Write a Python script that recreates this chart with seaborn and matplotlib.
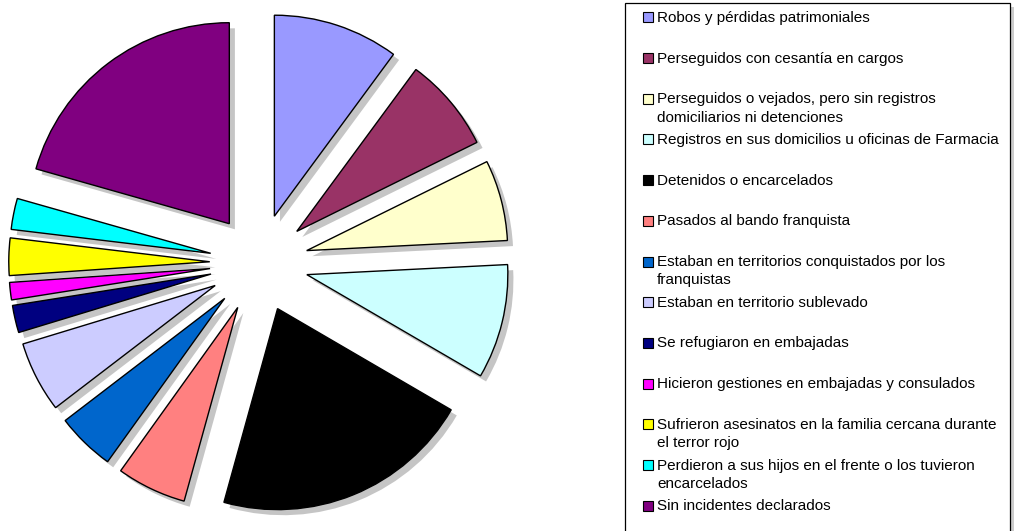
import numpy as np
import matplotlib
matplotlib.use('Agg')
import matplotlib.pyplot as plt
import matplotlib.patches as mpatches
import seaborn as sns

# Categories (legend order = slice order, clockwise from 12 o'clock)
labels = [
    'Robos y pérdidas patrimoniales',
    'Perseguidos con cesantía en cargos',
    'Perseguidos o vejados, pero sin registros\ndomiciliarios ni detenciones',
    'Registros en sus domicilios u oficinas de Farmacia',
    'Detenidos o encarcelados',
    'Pasados al bando franquista',
    'Estaban en territorios conquistados por los\nfranquistas',
    'Estaban en territorio sublevado',
    'Se refugiaron en embajadas',
    'Hicieron gestiones en embajadas y consulados',
    'Sufrieron asesinatos en la familia cercana durante\nel terror rojo',
    'Perdieron a sus hijos en el frente o los tuvieron\nencarcelados',
    'Sin incidentes declarados',
]
# Share of each group (%)
values = [10.1, 7.6, 6.5, 9.2, 20.9, 5.6, 4.7, 5.7, 2.2, 1.4, 3.0, 2.5, 20.6]
colors = ['#9999FF', '#993366', '#FFFFCC', '#CCFFFF', '#000000', '#FF8080',
          '#0066CC', '#CCCCFF', '#000080', '#FF00FF', '#FFFF00', '#00FFFF',
          '#800080']

sns.set_theme(style='white')
plt.rcParams['font.family'] = ['Liberation Sans', 'DejaVu Sans']

W, H = 1018, 531
fig = plt.figure(figsize=(W / 100, H / 100), dpi=100)
ax = fig.add_axes([0, 0, 1, 1])

# pie centre / radius in pixels
cx, cy, r = 259, 263, 201
palette = sns.color_palette(colors)
ax.pie(values, colors=palette, startangle=90, counterclock=False,
       explode=[0.245] * len(values),
       wedgeprops=dict(edgecolor='black', linewidth=1.0),
       shadow=dict(ox=0.02, oy=-0.02, facecolor='#808080',
                   edgecolor='none', alpha=0.45))
ax.set_aspect('auto')
ax.set_xlim(-cx / r, (W - cx) / r)
ax.set_ylim(-(H - cy) / r, cy / r)
ax.axis('off')


def fx(px):
    return px / W


def fy(py):
    return 1 - py / H


# legend frame with shadow
x0, y0, x1, y1 = 625, 3, 1010, 545
fig.patches.append(mpatches.Rectangle((fx(x0 + 4), fy(y1 + 4)), fx(x1 - x0), (y1 - y0) / H,
                                      transform=fig.transFigure, facecolor='#9a9a9a',
                                      edgecolor='none', alpha=0.5, zorder=5))
fig.patches.append(mpatches.Rectangle((fx(x0), fy(y1)), fx(x1 - x0), (y1 - y0) / H,
                                      transform=fig.transFigure, facecolor='white',
                                      edgecolor='black', linewidth=0.9, zorder=6))

slot0, step = 17.3, 40.7
for i, (lab, col) in enumerate(zip(labels, palette)):
    yc = slot0 + i * step
    fig.patches.append(mpatches.Rectangle((fx(643), fy(yc + 5)), fx(10), 10 / H,
                                          transform=fig.transFigure, facecolor=col,
                                          edgecolor='black', linewidth=0.8, zorder=7))
    fig.text(fx(657), fy(yc - 6.5), lab, fontsize=11, va='top', ha='left',
             linespacing=1.4, color='black', zorder=8)

fig.savefig('out.png', dpi=100)
